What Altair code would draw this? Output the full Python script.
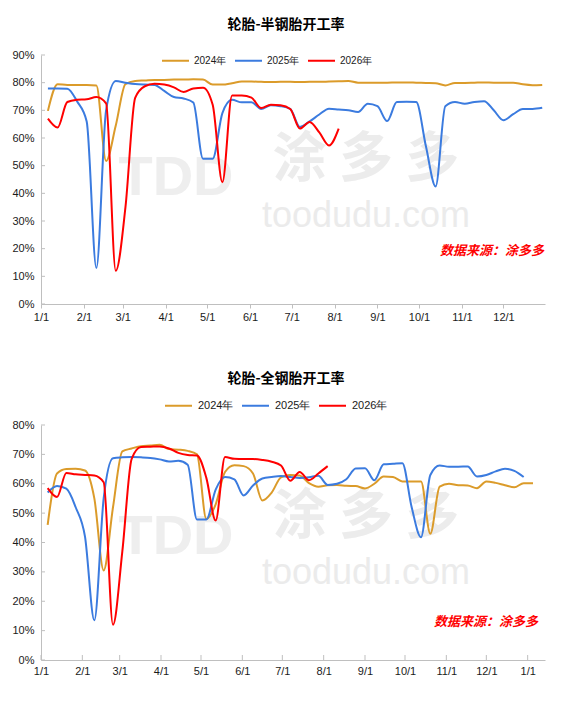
import altair as alt
import pandas as pd

# ---------------- data ----------------
WEEK_DAYS = [5, 12, 19, 26, 33, 40, 47, 54, 61, 68, 75, 82, 89, 96, 103, 110,
             117, 124, 131, 138, 145, 152, 159, 166, 173, 180, 187, 194, 201,
             208, 215, 222, 229, 236, 243, 250, 257, 264, 271, 278, 285, 292,
             299, 306, 313, 320, 327, 334, 341, 348, 355, 362, 369]

SERIES = ["2024年", "2025年", "2026年"]
COLORS = ["#DB9B2A", "#3B7BDF", "#FF0000"]
WIDTHS = [2.0, 2.0, 2.6]

MONTH_DAYS = [0, 31, 59, 90, 120, 151, 181, 212, 243, 273, 304, 334, 365]
MONTH_LABELS = ["1/1", "2/1", "3/1", "4/1", "5/1", "6/1", "7/1", "8/1",
                "9/1", "10/1", "11/1", "12/1", "1/1"]

TITLE_TOP = "轮胎-半钢胎开工率"
TITLE_BOTTOM = "轮胎-全钢胎开工率"
SOURCE = "数据来源：涂多多"

# 半钢胎 (semi-steel)
SEMI_2024 = [69.8, 79.4, 79.2, 79.2, 79.2, 79.0, 51.7, 64.5, 79.5, 80.6, 80.8,
             81.0, 81.0, 81.1, 81.1, 81.2, 81.1, 79.3, 79.3, 79.8, 80.4, 80.4,
             80.3, 80.2, 80.3, 80.3, 80.2, 80.3, 80.3, 80.4, 80.5, 80.6, 80.0,
             80.0, 80.0, 80.0, 80.1, 80.1, 80.0, 79.9, 79.8, 79.0, 79.9, 79.9,
             80.0, 80.1, 80.0, 80.0, 80.0, 79.4, 79.1, 79.2]
SEMI_2025 = [77.9, 77.9, 77.8, 73.3, 66.0, 13.0, 70.0, 80.6, 80.0, 79.5, 79.3,
             79.2, 77.0, 74.8, 74.3, 72.8, 52.5, 52.5, 69.0, 73.8, 72.9, 72.9,
             70.5, 71.8, 71.5, 70.5, 64.0, 66.0, 68.5, 70.6, 70.3, 70.0, 69.4,
             72.4, 71.5, 66.1, 73.0, 73.1, 73.0, 57.0, 42.5, 71.5, 73.0, 72.4,
             73.0, 73.3, 70.0, 66.4, 68.6, 70.5, 70.5, 70.9]
SEMI_2026 = [67.0, 63.8, 73.0, 73.8, 74.0, 74.8, 72.5, 12.0, 35.0, 74.5, 78.7,
             79.6, 79.3, 78.3, 76.6, 77.9, 78.2, 72.0, 44.0, 75.4, 75.4, 74.6,
             70.8, 72.0, 71.8, 70.5, 63.4, 65.8, 62.0, 57.3, 63.4]

# 全钢胎 (all-steel)
ALL_2024 = [46.0, 63.5, 65.0, 65.1, 64.5, 55.0, 30.5, 52.0, 71.0, 72.0, 72.8,
            73.0, 73.3, 71.8, 71.6, 71.2, 70.0, 48.0, 53.0, 64.0, 66.3, 66.0,
            63.5, 54.3, 57.0, 62.2, 63.0, 62.8, 60.2, 59.0, 59.5, 59.6, 59.3,
            59.2, 58.4, 60.0, 62.5, 62.3, 60.8, 60.8, 60.8, 43.0, 59.0, 60.0,
            59.5, 59.4, 58.5, 60.8, 60.3, 59.5, 58.8, 60.2, 60.2]
ALL_2025 = [57.0, 59.2, 58.3, 52.0, 42.0, 13.5, 55.0, 68.7, 69.0, 69.1, 69.0,
            68.8, 68.3, 67.6, 67.8, 66.5, 47.8, 47.8, 58.0, 62.3, 61.5, 56.0,
            59.4, 61.8, 62.3, 62.6, 62.3, 62.0, 62.2, 62.7, 59.6, 60.0, 61.5,
            65.2, 65.3, 61.2, 66.6, 66.8, 67.0, 52.0, 41.8, 63.0, 66.2, 65.8,
            65.8, 65.9, 62.5, 63.0, 64.2, 65.1, 64.4, 62.3]
ALL_2026 = [58.5, 55.5, 63.7, 63.2, 63.0, 62.8, 60.5, 12.0, 37.0, 68.5, 72.5,
            72.6, 72.7, 72.0, 70.5, 69.8, 69.6, 62.0, 47.5, 69.1, 68.5, 68.4,
            68.4, 68.1, 67.5, 66.2, 61.0, 64.0, 61.2, 63.5, 66.0]

TOP_YTICKS = [0, 10, 20, 30, 40, 50, 60, 70, 80, 90]
BOTTOM_YTICKS = [0, 10, 20, 30, 40, 50, 60, 70, 80]


def frame(series_values):
    rows = []
    for name, vals in zip(SERIES, series_values):
        for d, v in zip(WEEK_DAYS, vals):
            rows.append({"day": d, "value": v, "series": name})
    return pd.DataFrame(rows)


LABEL_EXPR = "[" + ",".join("'%s'" % s for s in MONTH_LABELS) + "][indexof([" + \
    ",".join(str(d) for d in MONTH_DAYS) + "], datum.value)]"

AXIS_GREY = "#bfbfbf"
LBL_FONT = "Liberation Sans"
CJK = "Noto Sans CJK SC"


def panel(series_values, title, W, H, ymax, yticks, xmax, xticks, outside_xticks,
          xlabel_pad, title_y, legend_x, legend_y, legend_font, legend_offset,
          wm_y_cn, wm_y_en, wm_y_logo, src_x, src_y):
    df = frame(series_values)
    x_enc = alt.X("day:Q",
                  scale=alt.Scale(domain=[0, xmax], nice=False, zero=False),
                  axis=alt.Axis(values=xticks, labelExpr=LABEL_EXPR, title=None,
                                grid=False, ticks=outside_xticks, tickSize=4,
                                tickColor=AXIS_GREY, domainColor=AXIS_GREY,
                                labelPadding=xlabel_pad, labelFont=LBL_FONT,
                                labelFontSize=11, labelColor="#1a1a1a",
                                labelFlush=False, labelOverlap=False))
    y_enc = alt.Y("value:Q",
                  scale=alt.Scale(domain=[0, ymax], nice=False),
                  axis=alt.Axis(values=yticks, labelExpr="datum.value + '%'",
                                title=None, grid=False, ticks=False,
                                domainColor=AXIS_GREY, labelPadding=7,
                                labelFont=LBL_FONT, labelFontSize=11,
                                labelColor="#1a1a1a", labelOverlap=False))

    wm_cn = alt.Chart(pd.DataFrame({"t": ["涂 多 多"]})).mark_text(
        font=CJK, fontSize=54, fontWeight="bold", color="#ececec",
        align="center", baseline="middle").encode(
        text="t:N", x=alt.value(325), y=alt.value(wm_y_cn))
    wm_en = alt.Chart(pd.DataFrame({"t": ["toodudu.com"]})).mark_text(
        font=LBL_FONT, fontSize=36, color="#ebebeb",
        align="center", baseline="middle").encode(
        text="t:N", x=alt.value(325), y=alt.value(wm_y_en))
    wm_logo = alt.Chart(pd.DataFrame({"t": ["TDD"]})).mark_text(
        font=LBL_FONT, fontSize=56, fontWeight="bold", color="#eeeeee",
        align="center", baseline="middle").encode(
        text="t:N", x=alt.value(135), y=alt.value(wm_y_logo))

    ytick_layer = alt.Chart(pd.DataFrame({"value": yticks})).mark_rule(
        color=AXIS_GREY, strokeWidth=1).encode(
        y=y_enc, x=alt.value(0), x2=alt.value(4))
    layers = [wm_logo, wm_cn, wm_en, ytick_layer]
    if not outside_xticks:
        xtick_layer = alt.Chart(pd.DataFrame({"day": xticks})).mark_rule(
            color=AXIS_GREY, strokeWidth=1).encode(
            x=x_enc, y=alt.value(H - 5), y2=alt.value(H))
        layers.append(xtick_layer)

    lines = alt.Chart(df).mark_line(interpolate="monotone").encode(
        x=x_enc, y=y_enc,
        color=alt.Color("series:N",
                        scale=alt.Scale(domain=SERIES, range=COLORS),
                        legend=alt.Legend(orient="none", legendX=legend_x,
                                          legendY=legend_y,
                                          direction="horizontal", title=None,
                                          symbolType="stroke", symbolSize=729,
                                          symbolStrokeWidth=2.6,
                                          labelFont=LBL_FONT,
                                          labelFontSize=legend_font,
                                          labelColor="#1a1a1a",
                                          labelOffset=legend_offset,
                                          columnPadding=4, padding=0)),
        strokeWidth=alt.StrokeWidth("series:N",
                                    scale=alt.Scale(domain=SERIES, range=WIDTHS),
                                    legend=None),
    )
    layers.append(lines)

    ttl = alt.Chart(pd.DataFrame({"t": [title]})).mark_text(
        font=CJK, fontSize=14, fontWeight="bold", color="#000000",
        align="center", baseline="middle").encode(
        text="t:N", x=alt.value(245), y=alt.value(title_y))
    src = alt.Chart(pd.DataFrame({"t": [SOURCE]})).mark_text(
        font=CJK, fontSize=13, fontWeight="bold", fontStyle="italic",
        color="#FF0000", align="right", baseline="middle").encode(
        text="t:N", x=alt.value(src_x), y=alt.value(src_y))
    layers += [ttl, src]

    return alt.layer(*layers).properties(width=W, height=H)


top = panel([SEMI_2024, SEMI_2025, SEMI_2026], TITLE_TOP, W=504, H=249,
            ymax=90, yticks=TOP_YTICKS, xmax=364, xticks=MONTH_DAYS[:12],
            outside_xticks=True, xlabel_pad=3, title_y=-30,
            legend_x=120, legend_y=-9, legend_font=10, legend_offset=4,
            wm_y_cn=106, wm_y_en=161, wm_y_logo=123, src_x=503, src_y=196)

bottom = panel([ALL_2024, ALL_2025, ALL_2026], TITLE_BOTTOM, W=504, H=235,
               ymax=80, yticks=BOTTOM_YTICKS, xmax=378, xticks=MONTH_DAYS,
               outside_xticks=False, xlabel_pad=5, title_y=-46,
               legend_x=123, legend_y=-34, legend_font=11, legend_offset=5,
               wm_y_cn=93, wm_y_en=148, wm_y_logo=112, src_x=497, src_y=197)

chart = alt.vconcat(top, bottom, spacing=121, bounds="flush").resolve_scale(
    color="independent", strokeWidth="independent", x="independent",
    y="independent"
).resolve_legend(color="independent").properties(
    padding={"left": 3, "top": 10, "right": 5, "bottom": 5},
    background="white",
).configure_view(stroke=None)

chart.save("out.html", embed_options={"renderer": "svg", "actions": False})
